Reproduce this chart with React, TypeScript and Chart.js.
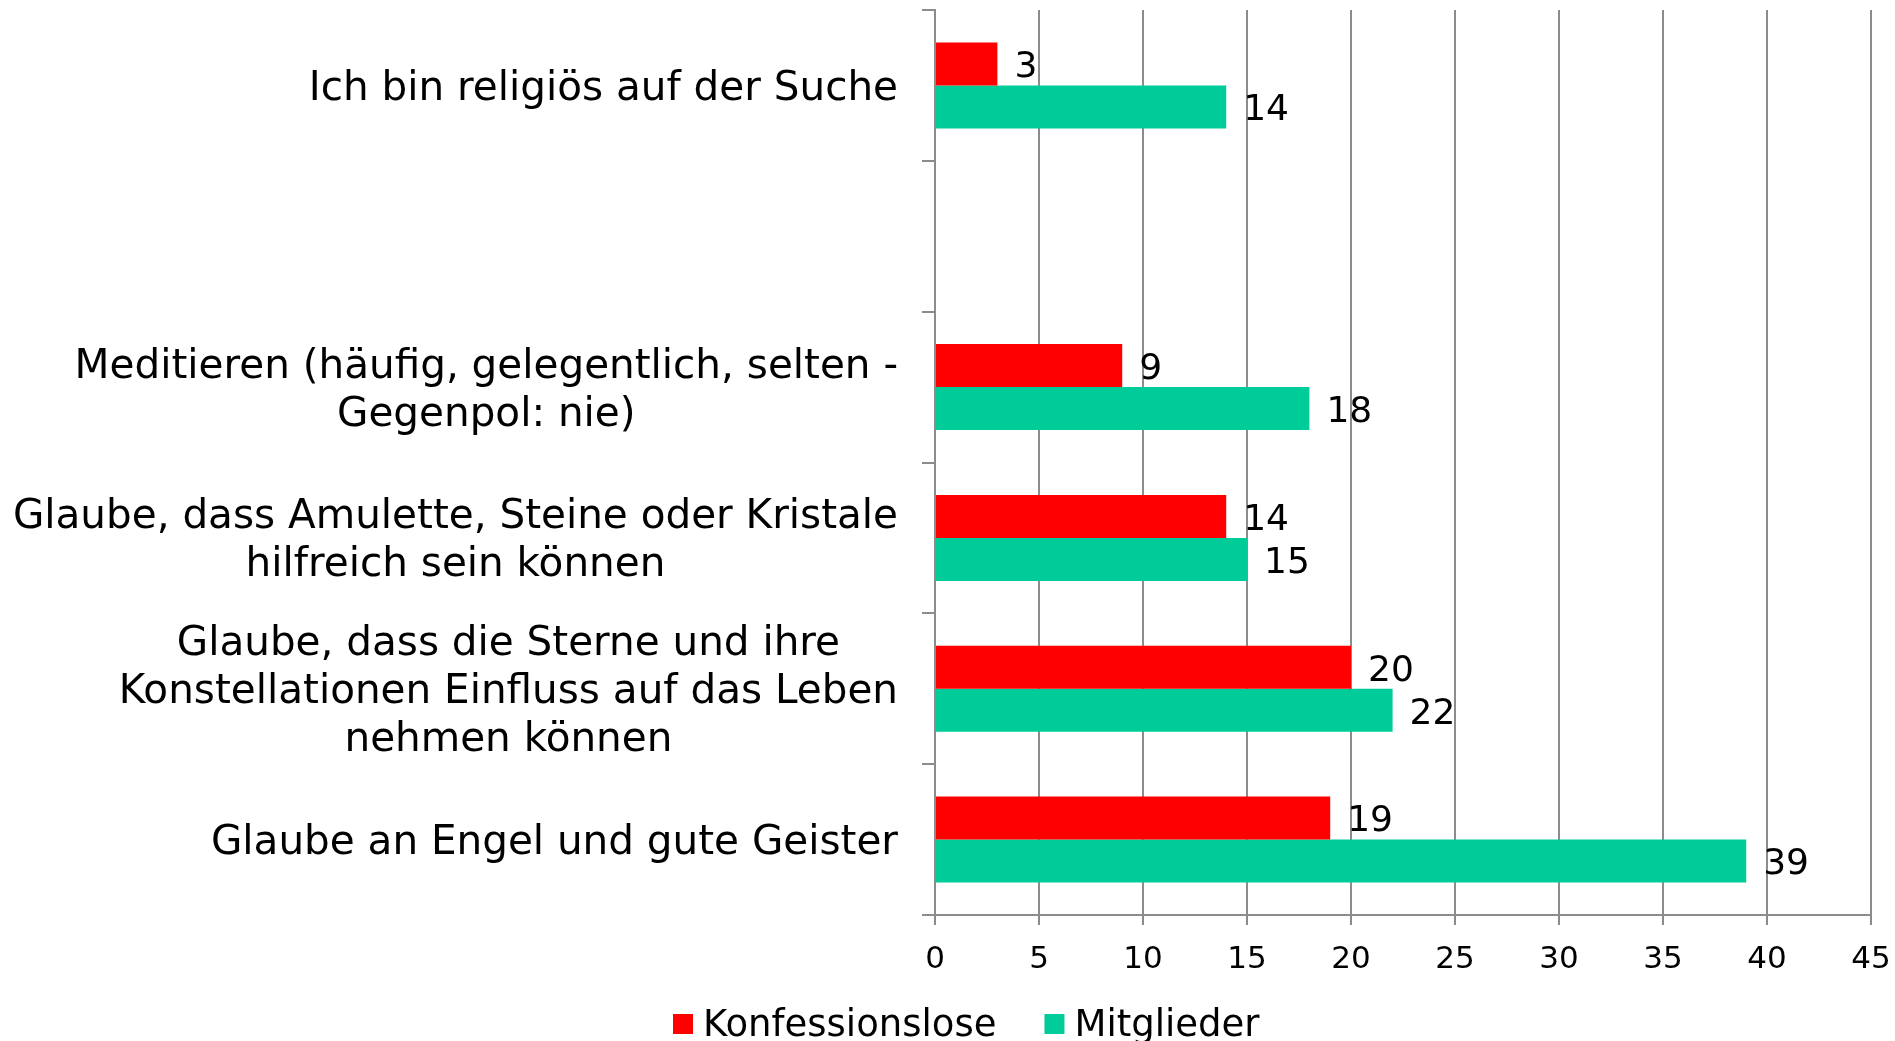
import React, { useEffect, useRef } from "react";
import { Chart, registerables } from "chart.js";

Chart.register(...registerables);

const categories: string[][] = [
  ["Ich bin religiös auf der Suche"],
  [""],
  ["Meditieren (häufig, gelegentlich, selten -", "Gegenpol: nie)"],
  ["Glaube, dass Amulette, Steine oder Kristale", "hilfreich sein können"],
  ["Glaube, dass die Sterne und ihre", "Konstellationen Einfluss auf das Leben", "nehmen können"],
  ["Glaube an Engel und gute Geister"],
];
const seriesNames = ["Konfessionslose", "Mitglieder"];
const konfessionslose: (number | null)[] = [3, null, 9, 14, 20, 19];
const mitglieder: (number | null)[] = [14, null, 18, 15, 22, 39];
const seriesColors = ["#FF0000", "#00CC99"];
const xMin = 0;
const xMax = 45;
const xStep = 5;

const FONT = "'DejaVu Sans', Verdana, sans-serif";
const GRID = "#8c8c8c";

const categoryLabelPlugin = {
  id: "categoryLabels",
  afterDraw(chart: any) {
    const { ctx, chartArea } = chart;
    const yScale = chart.scales.y;
    ctx.save();
    ctx.font = `40.5px ${FONT}`;
    ctx.fillStyle = "#000";
    ctx.textAlign = "center";
    ctx.textBaseline = "middle";
    const rightEdge = chartArea.left - 37;
    const lineH = 48;
    categories.forEach((lines, i) => {
      const yc = yScale.getPixelForValue(i) + 4;
      const w = Math.max(...lines.map((l) => ctx.measureText(l).width));
      const cx = rightEdge - w / 2;
      lines.forEach((line, j) => {
        const y = yc + (j - (lines.length - 1) / 2) * lineH;
        ctx.fillText(line, cx, y);
      });
    });
    ctx.restore();
  },
};

const dataLabelPlugin = {
  id: "dataLabels",
  afterDatasetsDraw(chart: any) {
    const { ctx } = chart;
    ctx.save();
    ctx.font = `36px ${FONT}`;
    ctx.fillStyle = "#000";
    ctx.textAlign = "left";
    ctx.textBaseline = "middle";
    chart.data.datasets.forEach((ds: any, di: number) => {
      const meta = chart.getDatasetMeta(di);
      meta.data.forEach((el: any, i: number) => {
        const v = ds.data[i];
        if (v === null || v === undefined) return;
        ctx.fillText(String(v), el.x + 17, el.y + 4);
      });
    });
    ctx.restore();
  },
};

const legendPlugin = {
  id: "customLegend",
  afterDraw(chart: any) {
    const { ctx } = chart;
    ctx.save();
    ctx.font = `37px ${FONT}`;
    ctx.textBaseline = "middle";
    ctx.textAlign = "left";
    const y = 1026;
    const box = 20;
    const gap = 10;
    const between = 48;
    const widths = chart.data.datasets.map((d: any) => ctx.measureText(d.label).width);
    let x = 673;
    chart.data.datasets.forEach((d: any, i: number) => {
      ctx.fillStyle = d.backgroundColor;
      ctx.fillRect(x, y - box / 2 - 2, box, box);
      ctx.fillStyle = "#000";
      ctx.fillText(d.label, x + box + gap, y);
      x += box + gap + widths[i] + between;
    });
    ctx.restore();
  },
};

export default function App() {
  const ref = useRef<HTMLCanvasElement | null>(null);
  useEffect(() => {
    document.body.style.margin = "0";
    document.body.style.overflow = "hidden";
    const canvas = ref.current!;
    const chart = new Chart(canvas, {
      type: "bar",
      data: {
        labels: categories.map((c) => c.join(" ")),
        datasets: [
          {
            label: seriesNames[0],
            data: konfessionslose,
            backgroundColor: seriesColors[0],
            borderWidth: 0,
            categoryPercentage: 0.57,
            barPercentage: 1.0,
          },
          {
            label: seriesNames[1],
            data: mitglieder,
            backgroundColor: seriesColors[1],
            borderWidth: 0,
            categoryPercentage: 0.57,
            barPercentage: 1.0,
          },
        ],
      },
      options: {
        indexAxis: "y",
        responsive: false,
        animation: false,
        layout: { padding: { left: 0, right: 24, top: 10, bottom: 0 } },
        plugins: {
          legend: { display: false },
          tooltip: { enabled: false },
        },
        scales: {
          x: {
            type: "linear",
            min: xMin,
            max: xMax,
            ticks: {
              stepSize: xStep,
              color: "#000",
              font: { family: FONT, size: 31 },
              padding: 16,
            },
            grid: {
              color: GRID,
              lineWidth: 2,
              drawTicks: true,
              tickLength: 10,
              tickColor: GRID,
            },
            border: { display: true, color: GRID, width: 2 },
            afterFit(scale: any) {
              scale.height = 126;
              scale.paddingLeft = 0;
              scale.paddingRight = 0;
            },
          },
          y: {
            type: "category",
            ticks: { display: false },
            grid: {
              color: GRID,
              lineWidth: 2,
              drawOnChartArea: false,
              drawTicks: true,
              tickLength: 13,
              offset: true,
            },
            border: { display: true, color: GRID, width: 2 },
            afterFit(scale: any) {
              scale.width = 935;
              scale.paddingTop = 0;
              scale.paddingBottom = 0;
            },
          },
        },
      },
      plugins: [categoryLabelPlugin, dataLabelPlugin, legendPlugin],
    });
    return () => chart.destroy();
  }, []);
  return (
    <div style={{ position: "absolute", left: 0, top: 0, width: 1895, height: 1041, background: "#fff" }}>
      <canvas ref={ref} width={1895} height={1041} style={{ display: "block" }} />
    </div>
  );
}
